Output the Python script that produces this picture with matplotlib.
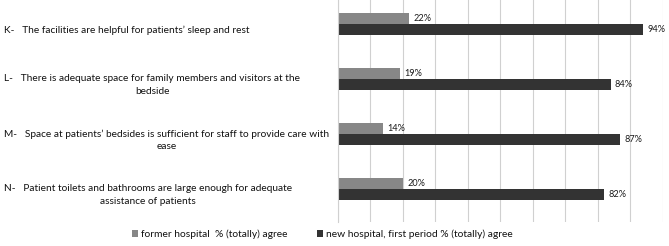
import numpy as np
import matplotlib.pyplot as plt
import matplotlib.transforms as mtransforms

plt.rcParams['font.family'] = ['Lato', 'DejaVu Sans']

# data
labels = ["K-   The facilities are helpful for patients\u2019 sleep and rest",
          "L-   There is adequate space for family members and visitors at the\nbedside",
          "M-   Space at patients\u2019 bedsides is sufficient for staff to provide care with\nease",
          "N-   Patient toilets and bathrooms are large enough for adequate\nassistance of patients"]
former = [22, 19, 14, 20]
new = [94, 84, 87, 82]
series_names = ["former hospital  % (totally) agree",
                "new hospital, first period % (totally) agree"]

fig = plt.figure(figsize=(6.69, 2.46), dpi=100)
ax = fig.add_axes([338/669, 24.3/246, (662.7-338)/669, 1 - 24.3/246])

y = np.arange(len(labels))
h = 0.2
b1 = ax.barh(y - h/2, former, height=h, color='#878787', label=series_names[0])
b2 = ax.barh(y + h/2, new, height=h, color='#333333', label=series_names[1])

for bars, vals in [(b1, former), (b2, new)]:
    for rect, v in zip(bars, vals):
        ax.annotate(f"{v}%", (v, rect.get_y() + rect.get_height()/2),
                    xytext=(3, 0), textcoords='offset points',
                    ha='left', va='center', fontsize=6.6, color='#1a1a1a')

ax.set_xlim(0, 100)
ax.set_ylim(3.596, -0.443)
ax.set_xticks(np.arange(0, 101, 10))
ax.xaxis.grid(True, color='#d0d0d0', linewidth=0.8)
ax.set_axisbelow(True)
ax.tick_params(left=False, bottom=False, labelbottom=False, labelleft=False)
for s in ['top', 'right', 'bottom']:
    ax.spines[s].set_visible(False)
ax.spines['left'].set_color('#d0d0d0')

# category labels, left aligned in the figure
trans = mtransforms.blended_transform_factory(fig.transFigure, ax.transData)
trans = mtransforms.offset_copy(trans, fig=fig, x=0, y=-6, units='dots')
for yi, lab in zip(y, labels):
    ax.text(4/669, yi, lab, transform=trans, ha='left', va='center',
            multialignment='center', fontsize=7.3, color='#111111',
            linespacing=1.5)

fig.legend(loc='lower center', bbox_to_anchor=(0.482, -0.01), ncol=2, frameon=False,
           fontsize=7.4, handlelength=0.6, handleheight=0.6, handletextpad=0.3,
           columnspacing=2.8, labelcolor='#111111')

fig.savefig('out.png', dpi=100)
